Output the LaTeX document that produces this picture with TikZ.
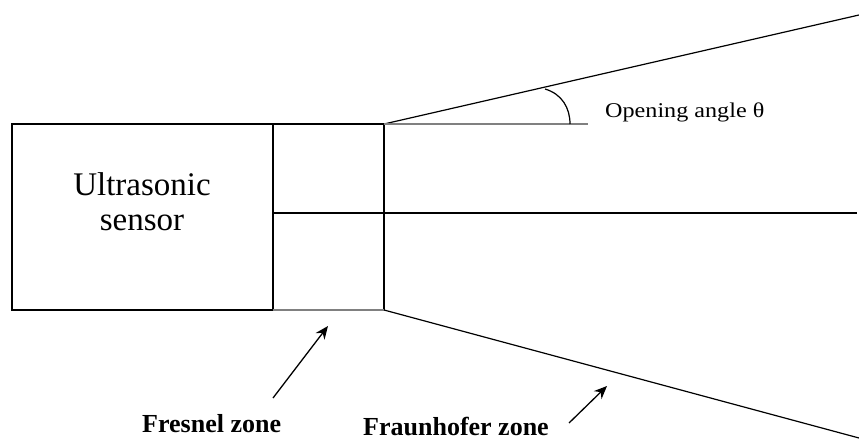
\documentclass[tikz,border=0pt]{standalone}
\usepackage{fontspec}
\setmainfont{Liberation Serif}
\usetikzlibrary{arrows.meta}
\definecolor{lgray}{RGB}{128,128,128}
\tikzset{
  blk/.style={draw=black, line width=1.2pt},
  gry/.style={draw=lgray, line width=2pt},
  pointer/.style={draw=black, line width=1.3pt, -{Stealth[length=13pt,width=11pt]}},
  lbl/.style={inner sep=0pt, anchor=base west},
}
\begin{document}
\begin{tikzpicture}[x=1pt,y=-1pt]
\useasboundingbox (0,0) rectangle (859,441);
\fill[white] (0,0) rectangle (859,441);
% corners
\coordinate (s1) at (12,124);
\coordinate (s2) at (273,310);
\coordinate (f1) at (273,124);
\coordinate (f2) at (384,310);
\coordinate (apex) at (384,124);
\coordinate (apexb) at (384,310);
\coordinate (mid) at (273,213);
\coordinate (midr) at (857,213);
\coordinate (topr) at (859,15);
\coordinate (botr) at (859,438);
\coordinate (angend) at (588,124);
\coordinate (arcA) at (545,89);
\coordinate (arcB) at (570,124);
% boxes
\draw[blk] (s1) rectangle (s2);
\draw[blk] (f1) -- (apex) -- (apexb);
\draw[gry] (f1 |- s2) -- (apexb);
\draw[blk] (mid) -- (midr);
% beam
\draw[blk] (apex) -- (topr);
\draw[blk] (apexb) -- (botr);
\draw[gry] (apex) -- (angend);
\draw[blk] (arcA) .. controls (562,94) and (570,108) .. (arcB);
% texts
\node[align=center, inner sep=0pt, font=\fontsize{33}{35}\selectfont, anchor=base] (sensor) at (142,230) {Ultrasonic\\sensor};
\node[lbl, font=\fontsize{21}{24}\selectfont] (angle) at (605,118) {\scalebox{1.15}[1]{Opening angle θ}};
\node[lbl, font=\fontsize{26}{28}\selectfont\bfseries] (fresnel) at (142,432) {Fresnel zone};
\node[lbl, font=\fontsize{26}{28}\selectfont\bfseries] (fraun) at (363,435) {Fraunhofer zone};
% arrows
\coordinate (fa1) at (273,398);
\coordinate (fa2) at (328,326);
\coordinate (ra1) at (569,423);
\coordinate (ra2) at (607,386);
\draw[pointer] (fa1) -- (fa2);
\draw[pointer] (ra1) -- (ra2);
\end{tikzpicture}
\end{document}
